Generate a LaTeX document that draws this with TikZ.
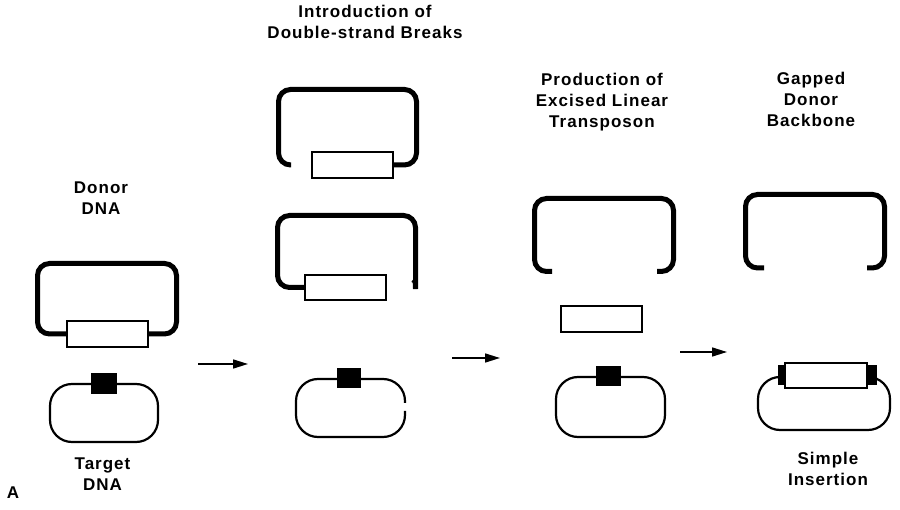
\documentclass[tikz,border=0pt]{standalone}
\usepackage{fontspec}
\setmainfont{Liberation Sans}
\newfontfamily\labfont{Liberation Sans}[LetterSpace=6]
\usetikzlibrary{arrows.meta}
\begin{document}
\begin{tikzpicture}[x=1pt,y=-1pt,
  donor/.style={line width=5pt, rounded corners=12pt},
  target/.style={line width=2.2pt, rounded corners=22pt},
  tbox/.style={draw, line width=1.3pt, fill=white, inner sep=0pt, outer sep=0pt},
  site/.style={fill=black, inner sep=0pt, outer sep=0pt},
  lab/.style={align=center, font=\labfont\bfseries\fontsize{17}{21}\selectfont, inner sep=0pt},
  arr/.style={line width=1.6pt, -{Triangle[length=15pt,width=9pt]}}]
\useasboundingbox[fill=white] (0,0) rectangle (900,510);

% labels
\node[lab] (tDonor) at (101,198) {Donor\\DNA};
\node[lab] (tTarget) at (102.5,474) {Target\\DNA};
\node[lab] (tIntro) at (365,22) {Introduction of\\Double-strand Breaks};
\node[lab] (tProd) at (602,102.5) {Production of\\Excised Linear\\Transposon};
\node[lab] (tGap) at (811,99) {Gapped\\Donor\\Backbone};
\node[lab] (tSimple) at (828,469) {Simple\\Insertion};
\node[lab] (tA) at (13,493) {A};

% column 1: donor plasmid and target
\draw[donor] (70,334) -- (37.5,334) -- (37.5,263.5) -- (176.5,263.5) -- (176.5,334) -- (145,334);
\node[tbox, minimum width=81pt, minimum height=26pt] (tn1) at (107.5,334) {};
\draw[target] (50,384) rectangle (158,442);
\node[site, minimum width=26pt, minimum height=21pt] (s1) at (104,383.5) {};

% column 2: double-strand breaks
\draw[donor] (291,165) -- (278.5,165) -- (278.5,89.5) -- (416.5,89.5) -- (416.5,165) -- (390,165);
\node[tbox, minimum width=81pt, minimum height=26pt] (tn2a) at (352.5,165) {};
\draw[donor] (310,287.5) -- (277.5,287.5) -- (277.5,215.5) -- (415.5,215.5) -- (415.5,277)
  [sharp corners] arc[start angle=0, end angle=35, radius=11];
\node[tbox, minimum width=81pt, minimum height=25pt] (tn2b) at (345.5,287.5) {};
\draw[target] (405,411) -- (405,437) -- (296,437) -- (296,379) -- (405,379) -- (405,403);
\node[site, minimum width=24pt, minimum height=20pt] (s2) at (349,378) {};

% column 3: excised linear transposon
\draw[donor] (552,271.5) -- (534.5,271.5) -- (534.5,198.5) -- (673.5,198.5) -- (673.5,271.5) -- (657,271.5);
\node[tbox, minimum width=81pt, minimum height=26pt] (tn3) at (601.5,319) {};
\draw[target] (556,377) rectangle (665,437);
\node[site, minimum width=25pt, minimum height=20pt] (s3) at (608.5,376) {};

% column 4: gapped backbone and simple insertion
\draw[donor] (764,268) -- (745.5,268) -- (745.5,194.5) -- (884.5,194.5) -- (884.5,268) -- (867,268);
\draw[target] (758,377) rectangle (890,430);
\node[site, minimum width=8pt, minimum height=20pt] (e1) at (781.5,375) {};
\node[site, minimum width=10pt, minimum height=20pt] (e2) at (872,375) {};
\node[tbox, minimum width=82pt, minimum height=25pt] (tn4) at (826,375.5) {};

% step arrows
\coordinate (a1s) at (198,364); \coordinate (a1e) at (248,364);
\coordinate (a2s) at (452,358); \coordinate (a2e) at (500,358);
\coordinate (a3s) at (680,352); \coordinate (a3e) at (727,352);
\draw[arr] (a1s) -- (a1e);
\draw[arr] (a2s) -- (a2e);
\draw[arr] (a3s) -- (a3e);
\end{tikzpicture}
\end{document}
